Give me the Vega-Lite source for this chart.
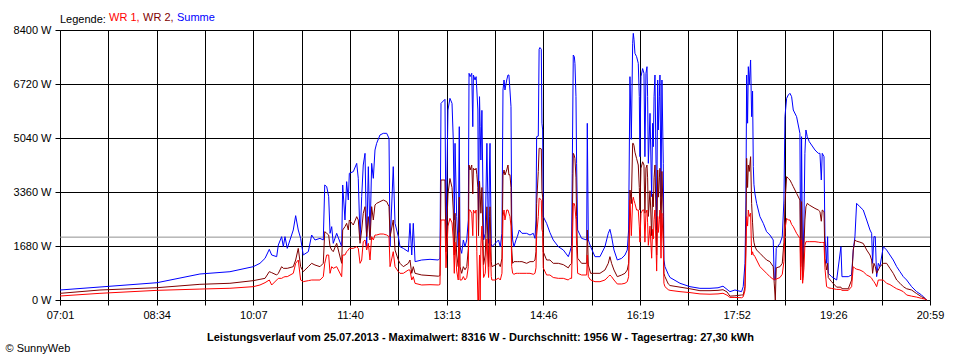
{
 "$schema": "https://vega.github.io/schema/vega-lite/v6.json",
 "width": 870, "height": 270,
 "autosize": {"type": "none"},
 "padding": {"left": 60, "top": 30, "right": 30, "bottom": 60},
 "background": "#ffffff",
 "config": {
  "view": {"stroke": null},
  "font": "Liberation Sans",
  "axis": {"labelFontSize": 11, "labelColor": "#000000", "domainColor": "#000000", "tickColor": "#000000", "gridColor": "#000000", "gridOpacity": 1, "gridWidth": 1, "domainWidth": 1, "tickWidth": 1, "tickSize": 5, "titleColor": "#000000"}
 },
 "datasets": {
  "avg": [{"avg": 1956}],
  "power": [
{"m":421,"summe":311,"wr2":207,"wr1":124},
{"m":459.5,"summe":404,"wr2":311,"wr1":208},
{"m":514.4,"summe":538,"wr2":383,"wr1":300},
{"m":555.8,"summe":809,"wr2":488,"wr1":340},
{"m":584.7,"summe":880,"wr2":520,"wr1":365},
{"m":607.2,"summe":1037,"wr2":602,"wr1":415},
{"m":613.6,"summe":1141,"wr2":643,"wr1":467},
{"m":618.5,"summe":1296,"wr2":674,"wr1":539},
{"m":622.6,"summe":1576,"wr2":882,"wr1":622},
{"m":624.9,"summe":1400,"wr2":851,"wr1":467},
{"m":629.7,"summe":1348,"wr2":778,"wr1":622},
{"m":631.3,"summe":1711,"wr2":830,"wr1":674},
{"m":634.5,"summe":1970,"wr2":1037,"wr1":674},
{"m":636.1,"summe":1659,"wr2":985,"wr1":705},
{"m":637.7,"summe":1970,"wr2":985,"wr1":726},
{"m":639.9,"summe":1607,"wr2":985,"wr1":726},
{"m":645.7,"summe":2178,"wr2":1037,"wr1":830},
{"m":648.0,"summe":2624,"wr2":1244,"wr1":1141},
{"m":650.5,"summe":2178,"wr2":1607,"wr1":1244},
{"m":652.8,"summe":1918,"wr2":1037,"wr1":622},
{"m":655.3,"summe":1400,"wr2":882,"wr1":571},
{"m":660.2,"summe":1504,"wr2":1037,"wr1":602},
{"m":663.4,"summe":2022,"wr2":1141,"wr1":622},
{"m":666.6,"summe":1867,"wr2":1089,"wr1":622},
{"m":671.4,"summe":1918,"wr2":1037,"wr1":622},
{"m":674.6,"summe":1867,"wr2":1141,"wr1":726},
{"m":676.0,"summe":3578,"wr2":2126,"wr1":1141},
{"m":677.9,"summe":3526,"wr2":2074,"wr1":1400},
{"m":679.8,"summe":3215,"wr2":2022,"wr1":1400},
{"m":681.1,"summe":2074,"wr2":1659,"wr1":830},
{"m":682.7,"summe":2282,"wr2":1556,"wr1":1037},
{"m":684.2,"summe":1763,"wr2":1504,"wr1":985},
{"m":687.5,"summe":2074,"wr2":1763,"wr1":1037},
{"m":692.3,"summe":1659,"wr2":1141,"wr1":726},
{"m":693.3,"summe":3578,"wr2":2178,"wr1":1400},
{"m":695.5,"summe":2489,"wr2":2282,"wr1":1400},
{"m":697.1,"summe":3682,"wr2":2385,"wr1":1504},
{"m":698.7,"summe":3111,"wr2":2178,"wr1":1556},
{"m":699.7,"summe":3941,"wr2":2489,"wr1":1607},
{"m":703.5,"summe":3993,"wr2":2333,"wr1":1607},
{"m":706.8,"summe":4251,"wr2":2593,"wr1":1659},
{"m":708.3,"summe":3785,"wr2":2489,"wr1":1607},
{"m":710.0,"summe":1867,"wr2":1763,"wr1":1141},
{"m":711.6,"summe":3215,"wr2":2178,"wr1":1244},
{"m":713.1,"summe":4200,"wr2":2696,"wr1":1815},
{"m":714.8,"summe":4563,"wr2":2904,"wr1":1867},
{"m":716.4,"summe":1659,"wr2":1970,"wr1":1556},
{"m":718.0,"summe":4148,"wr2":2593,"wr1":1763},
{"m":719.6,"summe":1970,"wr2":1867,"wr1":1244},
{"m":721.2,"summe":4251,"wr2":2904,"wr1":1970},
{"m":722.8,"summe":3785,"wr2":2489,"wr1":1867},
{"m":724.4,"summe":4667,"wr2":2955,"wr1":2022},
{"m":726.0,"summe":4874,"wr2":3007,"wr1":2022},
{"m":729.2,"summe":5133,"wr2":3059,"wr1":2053},
{"m":732.4,"summe":5185,"wr2":3111,"wr1":2053},
{"m":735.7,"summe":5185,"wr2":3059,"wr1":2022},
{"m":737.9,"summe":5029,"wr2":2904,"wr1":1970},
{"m":738.9,"summe":1659,"wr2":1970,"wr1":1037},
{"m":742.0,"summe":4148,"wr2":2489,"wr1":1504},
{"m":743.7,"summe":2385,"wr2":1556,"wr1":1037},
{"m":746.9,"summe":1970,"wr2":1244,"wr1":882},
{"m":748.5,"summe":1659,"wr2":1141,"wr1":830},
{"m":751.7,"summe":1607,"wr2":1037,"wr1":830},
{"m":756.5,"summe":1504,"wr2":1141,"wr1":933},
{"m":758.1,"summe":2385,"wr2":1244,"wr1":933},
{"m":759.8,"summe":1400,"wr2":830,"wr1":622},
{"m":761.3,"summe":2385,"wr2":1037,"wr1":726},
{"m":763.0,"summe":1193,"wr2":830,"wr1":518},
{"m":769.4,"summe":1244,"wr2":778,"wr1":467},
{"m":777.4,"summe":1265,"wr2":760,"wr1":477},
{"m":785.4,"summe":1244,"wr2":740,"wr1":467},
{"m":787.0,"summe":1300,"wr2":760,"wr1":480},
{"m":788.0,"summe":6118,"wr2":3733,"wr1":2489},
{"m":791.8,"summe":6243,"wr2":3733,"wr1":2489},
{"m":792.8,"summe":2000,"wr2":1500,"wr1":1000},
{"m":794.7,"summe":5911,"wr2":3300,"wr1":2300},
{"m":796.6,"summe":6274,"wr2":3780,"wr1":2541},
{"m":798.6,"summe":6118,"wr2":3500,"wr1":2400},
{"m":799.8,"summe":5000,"wr2":2800,"wr1":1900},
{"m":800.8,"summe":2489,"wr2":1400,"wr1":830},
{"m":801.5,"summe":4874,"wr2":2700,"wr1":1800},
{"m":803.1,"summe":2593,"wr2":1400,"wr1":900},
{"m":804.6,"summe":1659,"wr2":1037,"wr1":622},
{"m":805.6,"summe":5392,"wr2":3200,"wr1":2100},
{"m":806.3,"summe":1659,"wr2":1037,"wr1":622},
{"m":807.9,"summe":1452,"wr2":830,"wr1":622},
{"m":809.5,"summe":1867,"wr2":1037,"wr1":730},
{"m":811.1,"summe":1659,"wr2":940,"wr1":622},
{"m":812.8,"summe":1867,"wr2":1037,"wr1":700},
{"m":814.3,"summe":2489,"wr2":1600,"wr1":1037},
{"m":815.0,"summe":7052,"wr2":4200,"wr1":2800},
{"m":816.0,"summe":6948,"wr2":4044,"wr1":2800},
{"m":817.6,"summe":7052,"wr2":4200,"wr1":2700},
{"m":818.6,"summe":5392,"wr2":3300,"wr1":2000},
{"m":819.2,"summe":7000,"wr2":4100,"wr1":2800},
{"m":820.8,"summe":6844,"wr2":4044,"wr1":2700},
{"m":821.8,"summe":6948,"wr2":4100,"wr1":2800},
{"m":822.5,"summe":6533,"wr2":3900,"wr1":1500},
{"m":823.5,"summe":5911,"wr2":3500,"wr1":0},
{"m":824.1,"summe":2489,"wr2":2000,"wr1":0},
{"m":825.1,"summe":6326,"wr2":3700,"wr1":1400},
{"m":825.7,"summe":5392,"wr2":3300,"wr1":0},
{"m":826.4,"summe":4355,"wr2":2700,"wr1":1700},
{"m":827.4,"summe":5900,"wr2":3500,"wr1":2300},
{"m":829.0,"summe":1867,"wr2":1100,"wr1":700},
{"m":830.6,"summe":2074,"wr2":1400,"wr1":830},
{"m":832.2,"summe":4874,"wr2":2900,"wr1":1900},
{"m":833.8,"summe":1763,"wr2":1037,"wr1":700},
{"m":834.8,"summe":4355,"wr2":2600,"wr1":1700},
{"m":835.2,"summe":4874,"wr2":2900,"wr1":1900},
{"m":836.4,"summe":1763,"wr2":1200,"wr1":730},
{"m":837.0,"summe":1659,"wr2":1037,"wr1":622},
{"m":840.2,"summe":1763,"wr2":1089,"wr1":622},
{"m":843.4,"summe":1867,"wr2":1141,"wr1":680},
{"m":845.1,"summe":1659,"wr2":1037,"wr1":622},
{"m":846.7,"summe":2074,"wr2":1300,"wr1":830},
{"m":847.7,"summe":6533,"wr2":3889,"wr1":2600},
{"m":848.7,"summe":6844,"wr2":4044,"wr1":2800},
{"m":849.6,"summe":6533,"wr2":3889,"wr1":2489},
{"m":851.3,"summe":6844,"wr2":4044,"wr1":2800},
{"m":852.5,"summe":7000,"wr2":4200,"wr1":2800},
{"m":853.4,"summe":7000,"wr2":3889,"wr1":2700},
{"m":854.4,"summe":6533,"wr2":3900,"wr1":2600},
{"m":855.4,"summe":6014,"wr2":3500,"wr1":2300},
{"m":856.1,"summe":2489,"wr2":1600,"wr1":1037},
{"m":857.0,"summe":1867,"wr2":1141,"wr1":830},
{"m":858.3,"summe":1659,"wr2":1193,"wr1":800},
{"m":860.2,"summe":1867,"wr2":1193,"wr1":830},
{"m":861.5,"summe":1970,"wr2":1193,"wr1":830},
{"m":863.4,"summe":2178,"wr2":1193,"wr1":830},
{"m":866.0,"summe":2074,"wr2":1193,"wr1":830},
{"m":870.5,"summe":2074,"wr2":1141,"wr1":830},
{"m":873.7,"summe":2022,"wr2":1193,"wr1":830},
{"m":876.9,"summe":2074,"wr2":1193,"wr1":800},
{"m":878.5,"summe":1918,"wr2":1244,"wr1":830},
{"m":879.5,"summe":2489,"wr2":1500,"wr1":1000},
{"m":880.1,"summe":5081,"wr2":3000,"wr1":2000},
{"m":881.7,"summe":5100,"wr2":4000,"wr1":2600},
{"m":882.5,"summe":7800,"wr2":4718,"wr1":3163},
{"m":883.3,"summe":7855,"wr2":4718,"wr1":3163},
{"m":884.6,"summe":7800,"wr2":4700,"wr1":3100},
{"m":885.2,"summe":5500,"wr2":3400,"wr1":2200},
{"m":885.9,"summe":5289,"wr2":3200,"wr1":2100},
{"m":886.5,"summe":2593,"wr2":1500,"wr1":1000},
{"m":889.7,"summe":2385,"wr2":1244,"wr1":778},
{"m":892.9,"summe":2100,"wr2":1244,"wr1":778},
{"m":896.1,"summe":1867,"wr2":1141,"wr1":700},
{"m":901.0,"summe":1659,"wr2":1141,"wr1":674},
{"m":905.8,"summe":1556,"wr2":1100,"wr1":674},
{"m":910.6,"summe":1348,"wr2":1000,"wr1":622},
{"m":912.2,"summe":1500,"wr2":1089,"wr1":674},
{"m":913.8,"summe":1700,"wr2":1141,"wr1":674},
{"m":914.4,"summe":3941,"wr2":2400,"wr1":1600},
{"m":915.4,"summe":7622,"wr2":4563,"wr1":3000},
{"m":916.4,"summe":7570,"wr2":4500,"wr1":3000},
{"m":917.0,"summe":7363,"wr2":4400,"wr1":2900},
{"m":918.0,"summe":6326,"wr2":3800,"wr1":2500},
{"m":918.6,"summe":4252,"wr2":2600,"wr1":1700},
{"m":919.6,"summe":2178,"wr2":1300,"wr1":830},
{"m":923.4,"summe":1918,"wr2":1141,"wr1":778},
{"m":928.3,"summe":1867,"wr2":1141,"wr1":778},
{"m":928.9,"summe":5496,"wr2":2178,"wr1":1400},
{"m":929.9,"summe":1867,"wr2":1089,"wr1":726},
{"m":932.1,"summe":1659,"wr2":830,"wr1":622},
{"m":936.3,"summe":1348,"wr2":830,"wr1":570},
{"m":941.1,"summe":1348,"wr2":830,"wr1":570},
{"m":945.9,"summe":1659,"wr2":933,"wr1":622},
{"m":949.1,"summe":2074,"wr2":1141,"wr1":726},
{"m":950.7,"summe":2199,"wr2":1348,"wr1":778},
{"m":952.3,"summe":1970,"wr2":1141,"wr1":726},
{"m":954.6,"summe":1556,"wr2":933,"wr1":622},
{"m":957.8,"summe":1244,"wr2":726,"wr1":498},
{"m":962.0,"summe":1296,"wr2":778,"wr1":498},
{"m":965.2,"summe":1400,"wr2":830,"wr1":520},
{"m":967.4,"summe":1556,"wr2":933,"wr1":570},
{"m":968.7,"summe":2178,"wr2":1141,"wr1":726},
{"m":970.0,"summe":6948,"wr2":3422,"wr1":3111},
{"m":971.3,"summe":5000,"wr2":3000,"wr1":2000},
{"m":972.6,"summe":7985,"wr2":4874,"wr1":3111},
{"m":973.2,"summe":8296,"wr2":4874,"wr1":3200},
{"m":973.9,"summe":8100,"wr2":4800,"wr1":3100},
{"m":974.8,"summe":7674,"wr2":4600,"wr1":3000},
{"m":976.4,"summe":7570,"wr2":4400,"wr1":2800},
{"m":978.0,"summe":7363,"wr2":4200,"wr1":2800},
{"m":979.0,"summe":6326,"wr2":3500,"wr1":2300},
{"m":979.6,"summe":4459,"wr2":2800,"wr1":1800},
{"m":980.6,"summe":6948,"wr2":4100,"wr1":2700},
{"m":982.2,"summe":7200,"wr2":4300,"wr1":2800},
{"m":983.5,"summe":7052,"wr2":4200,"wr1":2800},
{"m":984.4,"summe":4459,"wr2":2700,"wr1":1800},
{"m":985.4,"summe":7052,"wr2":4100,"wr1":2700},
{"m":986.4,"summe":7259,"wr2":4200,"wr1":2800},
{"m":987.0,"summe":6326,"wr2":3800,"wr1":2400},
{"m":987.7,"summe":4252,"wr2":2600,"wr1":1700},
{"m":989.3,"summe":5807,"wr2":3400,"wr1":2300},
{"m":990.9,"summe":3215,"wr2":2000,"wr1":1300},
{"m":991.8,"summe":5496,"wr2":3300,"wr1":2200},
{"m":992.5,"summe":4770,"wr2":2900,"wr1":1900},
{"m":993.2,"summe":6326,"wr2":3800,"wr1":2500},
{"m":994.1,"summe":7000,"wr2":4200,"wr1":2800},
{"m":995.1,"summe":4252,"wr2":2600,"wr1":1700},
{"m":995.7,"summe":2178,"wr2":1400,"wr1":900},
{"m":996.7,"summe":6844,"wr2":4044,"wr1":2600},
{"m":997.3,"summe":5289,"wr2":3200,"wr1":2100},
{"m":998.3,"summe":6326,"wr2":3800,"wr1":2500},
{"m":998.9,"summe":7000,"wr2":4100,"wr1":2800},
{"m":999.9,"summe":3215,"wr2":2000,"wr1":1300},
{"m":1000.8,"summe":6844,"wr2":4000,"wr1":2700},
{"m":1002.1,"summe":4252,"wr2":2600,"wr1":1700},
{"m":1002.7,"summe":1244,"wr2":830,"wr1":520},
{"m":1003.7,"summe":1037,"wr2":726,"wr1":415},
{"m":1006.9,"summe":800,"wr2":500,"wr1":320},
{"m":1008.6,"summe":700,"wr2":450,"wr1":300},
{"m":1018.2,"summe":520,"wr2":400,"wr1":260},
{"m":1027.8,"summe":415,"wr2":350,"wr1":230},
{"m":1037.4,"summe":363,"wr2":290,"wr1":190},
{"m":1047.1,"summe":363,"wr2":290,"wr1":180},
{"m":1054.8,"summe":380,"wr2":300,"wr1":190},
{"m":1059.6,"summe":430,"wr2":320,"wr1":210},
{"m":1063.5,"summe":330,"wr2":250,"wr1":150},
{"m":1066.3,"summe":259,"wr2":120,"wr1":80},
{"m":1071.1,"summe":311,"wr2":130,"wr1":80},
{"m":1077.5,"summe":260,"wr2":156,"wr1":70},
{"m":1079.1,"summe":416,"wr2":156,"wr1":100},
{"m":1080.8,"summe":1141,"wr2":415,"wr1":300},
{"m":1081.7,"summe":3111,"wr2":2000,"wr1":1400},
{"m":1082.4,"summe":7000,"wr2":4407,"wr1":2593},
{"m":1083.3,"summe":5500,"wr2":3500,"wr1":2300},
{"m":1084.0,"summe":7259,"wr2":4200,"wr1":2800},
{"m":1084.9,"summe":6700,"wr2":4000,"wr1":2600},
{"m":1086.2,"summe":7467,"wr2":4459,"wr1":2700},
{"m":1087.2,"summe":5704,"wr2":3000,"wr1":1400},
{"m":1088.1,"summe":6500,"wr2":2400,"wr1":1500},
{"m":1088.8,"summe":4150,"wr2":1970,"wr1":1400},
{"m":1089.4,"summe":3600,"wr2":1800,"wr1":1400},
{"m":1090.4,"summe":3300,"wr2":1659,"wr1":1348},
{"m":1092.0,"summe":3007,"wr2":1556,"wr1":1244},
{"m":1095.2,"summe":2593,"wr2":1452,"wr1":1037},
{"m":1098.4,"summe":2385,"wr2":1348,"wr1":933},
{"m":1101.6,"summe":2126,"wr2":1244,"wr1":830},
{"m":1104.8,"summe":2022,"wr2":1193,"wr1":726},
{"m":1108.0,"summe":1867,"wr2":1037,"wr1":643},
{"m":1109.0,"summe":622,"wr2":500,"wr1":650},
{"m":1110.0,"summe":622,"wr2":0,"wr1":640},
{"m":1110.9,"summe":1607,"wr2":1000,"wr1":650},
{"m":1114.5,"summe":1760,"wr2":1037,"wr1":700},
{"m":1116.7,"summe":1970,"wr2":1141,"wr1":800},
{"m":1118.3,"summe":3111,"wr2":1800,"wr1":1200},
{"m":1119.3,"summe":5704,"wr2":3000,"wr1":2200},
{"m":1120.9,"summe":6274,"wr2":3837,"wr1":2541},
{"m":1122.5,"summe":6378,"wr2":3785,"wr1":2489},
{"m":1124.1,"summe":6430,"wr2":3733,"wr1":2489},
{"m":1125.7,"summe":6326,"wr2":3630,"wr1":2350},
{"m":1127.3,"summe":5911,"wr2":3526,"wr1":2280},
{"m":1130.5,"summe":5704,"wr2":3318,"wr1":2074},
{"m":1133.7,"summe":5185,"wr2":3111,"wr1":1918},
{"m":1134.4,"summe":1141,"wr2":1037,"wr1":622},
{"m":1135.3,"summe":5081,"wr2":3060,"wr1":1867},
{"m":1136.3,"summe":700,"wr2":622,"wr1":520},
{"m":1137.6,"summe":2489,"wr2":1659,"wr1":1000},
{"m":1138.5,"summe":4563,"wr2":2489,"wr1":1700},
{"m":1139.5,"summe":5289,"wr2":2900,"wr1":1815},
{"m":1140.8,"summe":5081,"wr2":3007,"wr1":1815},
{"m":1142.7,"summe":4926,"wr2":2955,"wr1":1815},
{"m":1148.2,"summe":4667,"wr2":2850,"wr1":1815},
{"m":1151.4,"summe":4563,"wr2":2800,"wr1":1800},
{"m":1153.0,"summe":4563,"wr2":2750,"wr1":1790},
{"m":1154.3,"summe":3734,"wr2":2450,"wr1":1790},
{"m":1155.2,"summe":4563,"wr2":2800,"wr1":1790},
{"m":1156.9,"summe":4460,"wr2":2750,"wr1":1790},
{"m":1157.8,"summe":2000,"wr2":1300,"wr1":1000},
{"m":1159.4,"summe":1141,"wr2":933,"wr1":415},
{"m":1160.4,"summe":1970,"wr2":1141,"wr1":400},
{"m":1161.0,"summe":830,"wr2":700,"wr1":380},
{"m":1164.2,"summe":726,"wr2":570,"wr1":360},
{"m":1169.1,"summe":622,"wr2":400,"wr1":330},
{"m":1173.2,"summe":1659,"wr2":400,"wr1":330},
{"m":1174.2,"summe":726,"wr2":350,"wr1":300},
{"m":1180.3,"summe":726,"wr2":350,"wr1":300},
{"m":1183.5,"summe":780,"wr2":622,"wr1":415},
{"m":1185.1,"summe":1556,"wr2":1556,"wr1":1037},
{"m":1186.7,"summe":1970,"wr2":1867,"wr1":985},
{"m":1188.3,"summe":3007,"wr2":1830,"wr1":960},
{"m":1191.5,"summe":2900,"wr2":1800,"wr1":933},
{"m":1194.7,"summe":2800,"wr2":1760,"wr1":880},
{"m":1198.0,"summe":2489,"wr2":1556,"wr1":780},
{"m":1201.2,"summe":2178,"wr2":1400,"wr1":726},
{"m":1202.8,"summe":2074,"wr2":1244,"wr1":680},
{"m":1203.7,"summe":1141,"wr2":830,"wr1":622},
{"m":1205.0,"summe":1970,"wr2":1141,"wr1":570},
{"m":1206.3,"summe":1970,"wr2":1037,"wr1":500},
{"m":1207.6,"summe":726,"wr2":830,"wr1":415},
{"m":1209.2,"summe":1141,"wr2":933,"wr1":622},
{"m":1210.8,"summe":1037,"wr2":1037,"wr1":622},
{"m":1214.0,"summe":1659,"wr2":1141,"wr1":622},
{"m":1217.2,"summe":1556,"wr2":1141,"wr1":519},
{"m":1220.4,"summe":1400,"wr2":985,"wr1":480},
{"m":1223.6,"summe":1244,"wr2":830,"wr1":415},
{"m":1226.9,"summe":1037,"wr2":622,"wr1":350},
{"m":1230.1,"summe":881,"wr2":520,"wr1":311},
{"m":1233.3,"summe":726,"wr2":415,"wr1":260},
{"m":1236.5,"summe":622,"wr2":350,"wr1":156},
{"m":1241.3,"summe":415,"wr2":311,"wr1":120},
{"m":1246.1,"summe":260,"wr2":200,"wr1":90},
{"m":1250.9,"summe":156,"wr2":100,"wr1":50},
{"m":1254.1,"summe":52,"wr2":52,"wr1":30},
{"m":1255.7,"summe":0,"wr2":0,"wr1":0}
  ]
 },
 "layer": [
  {
   "data": {"name": "avg"},
   "mark": {"type": "rule", "color": "#909090", "strokeWidth": 1},
   "encoding": {
    "y": {"field": "avg", "type": "quantitative", "scale": {"domain": [0, 8400], "nice": false},
     "axis": {
      "values": [0, 1680, 3360, 5040, 6720, 8400],
      "labelExpr": "datum.value + ' W'",
      "grid": true, "labelPadding": 4, "labelOverlap": false, "labelFlush": false, "labelBound": false,
      "title": "© SunnyWeb", "titleAngle": 0, "titleX": -55, "titleY": 318, "titleAlign": "left", "titleBaseline": "middle", "titleFontWeight": "normal", "titleFontSize": 11
     }
    }
   }
  },
  {
   "data": {"name": "power"},
   "mark": {"type": "line", "strokeWidth": 1, "interpolate": "linear"},
   "encoding": {
    "x": {"field": "m", "type": "quantitative",
     "scale": {"domain": [421, 1259], "nice": false, "zero": false},
     "axis": {
      "values": [421, 467.556, 514.111, 560.667, 607.222, 653.778, 700.333, 746.889, 793.444, 840, 886.556, 933.111, 979.667, 1026.222, 1072.778, 1119.333, 1165.889, 1212.444, 1259],
      "labelExpr": "split('07:01,,08:34,,10:07,,11:40,,13:13,,14:46,,16:19,,17:52,,19:26,,20:59', ',')[round((datum.value - 421) / 46.5556)]",
      "grid": true, "labelPadding": 4, "labelOverlap": false, "labelFlush": false, "labelBound": false,
      "title": "Leistungsverlauf vom 25.07.2013 - Maximalwert: 8316 W - Durchschnitt: 1956 W - Tagesertrag: 27,30 kWh",
      "titleFontWeight": "bold", "titleFontSize": 11, "titleX": 420, "titleY": 37, "titleBaseline": "middle", "titleAlign": "center"
     }
    },
    "y": {"field": "summe", "type": "quantitative"},
    "color": {"datum": "Summe", "type": "nominal",
     "scale": {"domain": ["WR 1", "WR 2", "Summe"], "range": ["#ff0000", "#800000", "#0000ff"]},
     "legend": {
      "orient": "none", "legendX": 0, "legendY": -24, "direction": "horizontal",
      "title": "Legende:", "titleOrient": "left", "titleFontWeight": "normal", "titleFontSize": 11, "titleColor": "#000000", "titlePadding": 3, "titleBaseline": "top",
      "labelFontSize": 11, "labelBaseline": "top", "symbolType": "circle", "symbolSize": 0.01, "symbolStrokeWidth": 0, "symbolOpacity": 0, "labelOffset": -11, "columnPadding": 3,
      "labelExpr": "datum.label == 'Summe' ? datum.label : datum.label + ','",
      "encode": {"labels": {"update": {"fill": {"scale": "color", "field": "value"}}}}
     }
    }
   }
  },
  {
   "data": {"name": "power"},
   "mark": {"type": "line", "strokeWidth": 1, "interpolate": "linear"},
   "encoding": {
    "x": {"field": "m", "type": "quantitative"},
    "y": {"field": "wr2", "type": "quantitative"},
    "color": {"datum": "WR 2", "type": "nominal"}
   }
  },
  {
   "data": {"name": "power"},
   "mark": {"type": "line", "strokeWidth": 1, "interpolate": "linear"},
   "encoding": {
    "x": {"field": "m", "type": "quantitative"},
    "y": {"field": "wr1", "type": "quantitative"},
    "color": {"datum": "WR 1", "type": "nominal"}
   }
  }
 ]
}
